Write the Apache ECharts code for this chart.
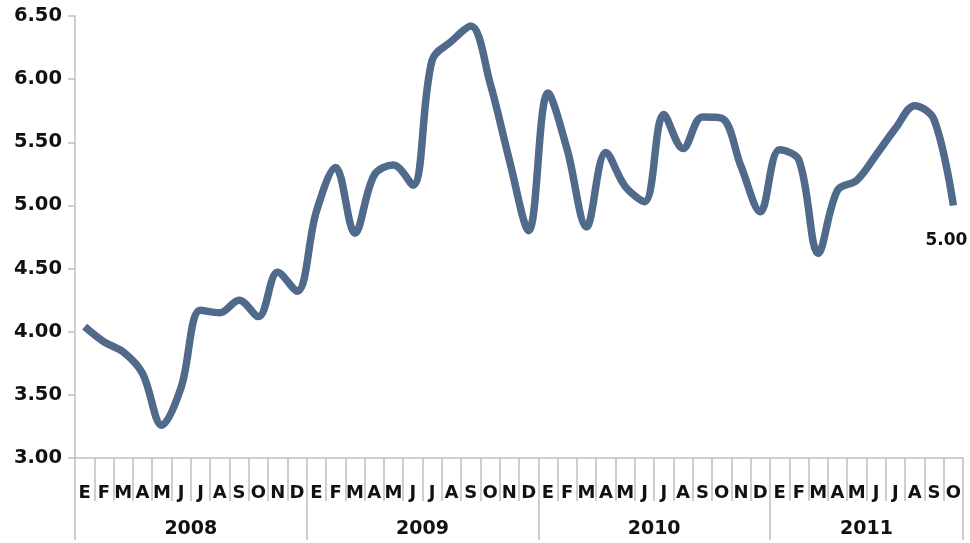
<!DOCTYPE html>
<html>
<head>
<meta charset="utf-8">
<script src="https://cdn.jsdelivr.net/npm/echarts@6/dist/echarts.min.js"></script>
<style>
  html, body {margin: 0; padding: 0; background: #fff;}
  #chart {width: 970px; height: 543px;}
</style>
</head>
<body>
<div id="chart"></div>
<script>
// month initials (Spanish), Jan 2008 .. Oct 2011
const monthLetters = ['E', 'F', 'M', 'A', 'M', 'J', 'J', 'A', 'S', 'O', 'N', 'D'];
const years = ['2008', '2009', '2010', '2011'];
const yearStarts = [0, 12, 24, 36, 46]; // category boundaries of each year
const yearCenters = [6, 18, 30, 41];

const values = [
    4.04, 3.92, 3.84, 3.67, 3.26, 3.56, 4.17, 4.15, 4.25, 4.12, 4.47, 4.32,
    4.95, 5.30, 4.78, 5.24, 5.32, 5.16, 6.15, 6.30, 6.42, 5.97, 5.36, 4.80,
    5.89, 5.44, 4.83, 5.42, 5.15, 5.03, 5.72, 5.45, 5.70, 5.69, 5.31, 4.95,
    5.44, 5.36, 4.62, 5.12, 5.20, 5.40, 5.61, 5.79, 5.68, 5.00,
];

const yTicks = {min: 3, max: 6.5, interval: 0.5};

const categories = values.map((v, i) => monthLetters[i % 12] + '-' + i);

const lineColor = '#506a8c';
const axisGray = '#bfbfbf';
const fontFamily = '"DejaVu Sans", "Liberation Sans", sans-serif';

const chart = echarts.init(document.getElementById('chart'));

const seriesData = values.map((v, i) => {
    if (i === values.length - 1) {
        return {
            value: v,
            label: {
                show: true,
                position: 'bottom',
                distance: 27,
                offset: [-7, 0],
                formatter: (p) => p.value.toFixed(2),
                color: '#111',
                fontSize: 17,
                fontWeight: 'bold',
                fontFamily: fontFamily,
            },
        };
    }
    return v;
});

chart.setOption({
    animation: false,
    grid: {left: 75, right: 7, top: 16, bottom: 85},
    xAxis: [
        {
            type: 'category',
            data: categories,
            boundaryGap: true,
            axisLine: {lineStyle: {color: axisGray, width: 1.5}},
            axisTick: {show: true, interval: 0, length: 43, lineStyle: {color: axisGray, width: 1.5}},
            axisLabel: {
                interval: 0,
                margin: 26,
                formatter: (v) => v.split('-')[0],
                color: '#111',
                fontSize: 18,
                fontWeight: 'bold',
                fontFamily: fontFamily,
            },
            splitLine: {show: false},
        },
        {
            type: 'value',
            position: 'bottom',
            min: 0,
            max: 46,
            axisLine: {show: false},
            axisTick: {
                show: true,
                customValues: yearStarts,
                length: 82,
                lineStyle: {color: axisGray, width: 1.5},
            },
            axisLabel: {
                customValues: yearCenters,
                margin: 62,
                formatter: (v) => years[yearCenters.indexOf(v)] || '',
                color: '#111',
                fontSize: 19,
                fontWeight: 'bold',
                fontFamily: fontFamily,
            },
            splitLine: {show: false},
        },
    ],
    yAxis: {
        type: 'value',
        min: yTicks.min,
        max: yTicks.max,
        interval: yTicks.interval,
        axisLine: {show: true, lineStyle: {color: axisGray, width: 1.5}},
        axisTick: {show: true, length: 7, lineStyle: {color: axisGray, width: 1.5}},
        axisLabel: {
            margin: 13,
            formatter: (v) => v.toFixed(2),
            color: '#111',
            fontSize: 19.5,
            fontWeight: 'bold',
            fontFamily: fontFamily,
        },
        splitLine: {show: false},
    },
    series: [
        {
            type: 'line',
            xAxisIndex: 0,
            data: seriesData,
            smooth: 0.35,
            symbol: 'circle',
            symbolSize: 0,
            showSymbol: true,
            showAllSymbol: true,
            lineStyle: {color: lineColor, width: 7.5},
            itemStyle: {color: lineColor},
        },
    ],
});
</script>
</body>
</html>
